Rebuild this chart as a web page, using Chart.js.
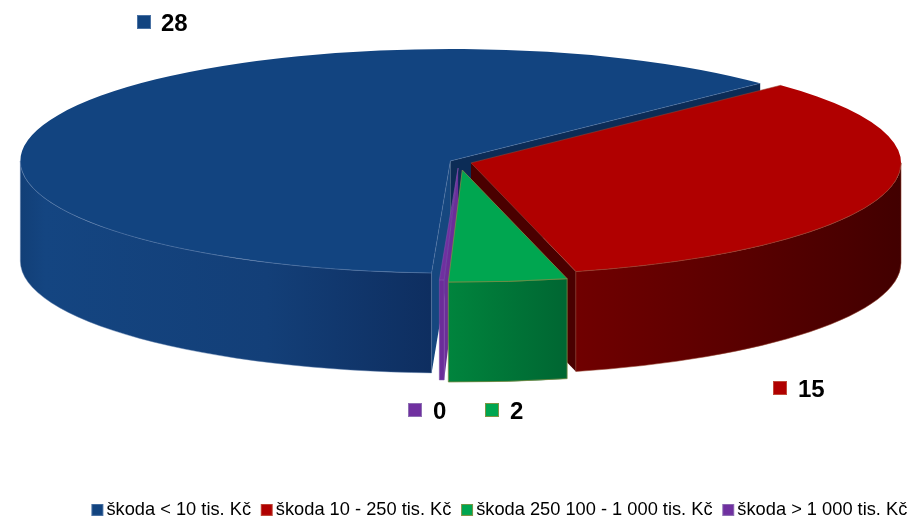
<!DOCTYPE html>
<html><head><meta charset="utf-8">
<style>html,body{margin:0;padding:0;background:#fff;overflow:hidden}canvas{display:block}</style>
<script src="https://cdn.jsdelivr.net/npm/chart.js@4"></script>
</head><body><canvas id="c" width="911" height="519"></canvas>
<script>
const categories = ['škoda < 10 tis. Kč','škoda 10 - 250 tis. Kč','škoda 250 100 - 1 000 tis. Kč','škoda > 1 000 tis. Kč'];
const values = [28, 15, 2, 0.08];
const shownValues = [28, 15, 2, 0];
const topColors = ['#124480','#b00000','#00a650','#7030a0'];
const markerBorders = ['#4a72a4','#c04a3a','#7f9445','#8f70b4'];
const edgeColors = ['rgba(90,125,170,.45)','rgba(150,70,50,.55)','rgba(125,140,70,.8)','rgba(125,80,170,.6)'];
const startFaces = ['#16477f',null,null,'#6b2d99'];
const endFaces = ['#0c2c56','#4a0000',null,null];
const wallStops = [
  [[0,'#123f77'],[.06,'#144581'],[.6,'#133f78'],[1,'#0e2e60']],
  [[0,'#700000'],[.45,'#5c0000'],[1,'#420000']],
  [[0,'#00843d'],[1,'#006632']],
  [[0,'#6b2d99'],[1,'#6b2d99']]
];
const explode = [9.5, 12.5, 31, 23];
const drawOrder = [0, 1, 3, 2];
const CX = 459, CY = 162, R = 430, RY = 112, DEPTH = 100;
const labelBoxes = [[137,15,161,31],[773,381,798,397],[485,403,510,419],[408,403,433,419]];

function makeMarker(i){
  const m = document.createElement('canvas'); m.width = 23; m.height = 12;
  const g = m.getContext('2d');
  g.fillStyle = topColors[i]; g.fillRect(6,0,12,12);
  g.strokeStyle = markerBorders[i]; g.lineWidth = 1; g.strokeRect(6.5,.5,11,11);
  return m;
}
const centre = a => {
  const m = (a.startAngle + a.endAngle) / 2, o = explode[a.$i];
  return {x: CX + Math.cos(m)*o, y: CY + Math.sin(m)*o*RY/R};
};
function visibleSpans(a){
  const out = [];
  for (const k of [0,1]) {
    const s = Math.max(a.startAngle, 2*Math.PI*k), e = Math.min(a.endAngle, 2*Math.PI*k + Math.PI);
    if (e > s) out.push([s,e]);
  }
  return out;
}
function rim(c, t){ return {x: c.x + R*Math.cos(t), y: c.y + RY*Math.sin(t)}; }
function facePath(ctx, c, t){
  const p = rim(c,t);
  ctx.beginPath(); ctx.moveTo(c.x,c.y); ctx.lineTo(p.x,p.y); ctx.lineTo(p.x,p.y+DEPTH); ctx.lineTo(c.x,c.y+DEPTH); ctx.closePath();
}
const pie3d = {
  id:'pie3d',
  beforeDatasetDraw(chart){
    const ctx = chart.ctx, arcs = chart.getDatasetMeta(0).data;
    arcs.forEach((a,i)=>{a.$i=i;});
    for (const i of drawOrder) {
      const a = arcs[i], c = centre(a);
      if (startFaces[i]) { facePath(ctx,c,a.startAngle); ctx.fillStyle = startFaces[i]; ctx.fill(); }
      if (endFaces[i]) { facePath(ctx,c,a.endAngle); ctx.fillStyle = endFaces[i]; ctx.fill(); }
      for (const [s,e] of visibleSpans(a)) {
        const x0 = Math.min(rim(c,s).x, rim(c,e).x), x1 = Math.max(rim(c,s).x, rim(c,e).x);
        const g = ctx.createLinearGradient(x0,0,x1,0);
        wallStops[i].forEach(st=>g.addColorStop(st[0],st[1]));
        ctx.beginPath();
        ctx.ellipse(c.x,c.y,R,RY,0,s,e,false);
        ctx.ellipse(c.x,c.y+DEPTH,R,RY,0,e,s,true);
        ctx.closePath(); ctx.fillStyle = g; ctx.fill();
        ctx.lineWidth = 1; ctx.strokeStyle = edgeColors[i]; ctx.stroke();
      }
    }
    for (const i of drawOrder) {
      const a = arcs[i], c = centre(a);
      ctx.save();
      ctx.translate(c.x,c.y); ctx.scale(1,RY/R); ctx.translate(-a.x,-a.y);
      a.draw(ctx);
      ctx.restore();
      const p = rim(c,a.startAngle), q = rim(c,a.endAngle);
      ctx.beginPath(); ctx.moveTo(p.x,p.y); ctx.lineTo(c.x,c.y); ctx.lineTo(q.x,q.y);
      ctx.lineWidth = 1; ctx.strokeStyle = edgeColors[i]; ctx.stroke();
      for (const [s,e] of visibleSpans(a)) {
        ctx.beginPath(); ctx.ellipse(c.x,c.y,R,RY,0,s,e,false); ctx.stroke();
      }
    }
    return false;
  },
  afterDraw(chart){
    const ctx = chart.ctx;
    ctx.save();
    ctx.textBaseline = 'alphabetic'; ctx.textAlign = 'left';
    ctx.font = 'bold 24px "Liberation Sans", Arial, sans-serif';
    labelBoxes.forEach((b,i)=>{
      ctx.fillStyle = topColors[i]; ctx.fillRect(b[0],b[1],14,14);
      ctx.strokeStyle = markerBorders[i]; ctx.lineWidth = 1; ctx.strokeRect(b[0]+.5,b[1]+.5,13,13);
      ctx.fillStyle = '#000'; ctx.fillText(String(shownValues[i]), b[2], b[3]);
    });
    ctx.restore();
  }
};
new Chart(document.getElementById('c'),{
  type:'pie',
  data:{labels:categories,datasets:[{data:values,backgroundColor:topColors,borderWidth:0,radius:R,clip:false}]},
  options:{
    responsive:false,animation:false,rotation:182.5,
    layout:{padding:{left:0,right:-11,top:0,bottom:-10}},
    plugins:{
      tooltip:{enabled:false},
      legend:{position:'bottom',align:'end',
        labels:{usePointStyle:true,boxWidth:1,boxHeight:12,padding:14.7,color:'#000',
          font:{family:'"Liberation Sans", Arial, sans-serif',size:18.25},
          generateLabels(chart){
            const base = Chart.overrides.doughnut.plugins.legend.labels.generateLabels(chart);
            return base.map((l,i)=>Object.assign(l,{pointStyle:makeMarker(i)}));
          }}}
    }
  },
  plugins:[pie3d]
});
</script></body></html>
